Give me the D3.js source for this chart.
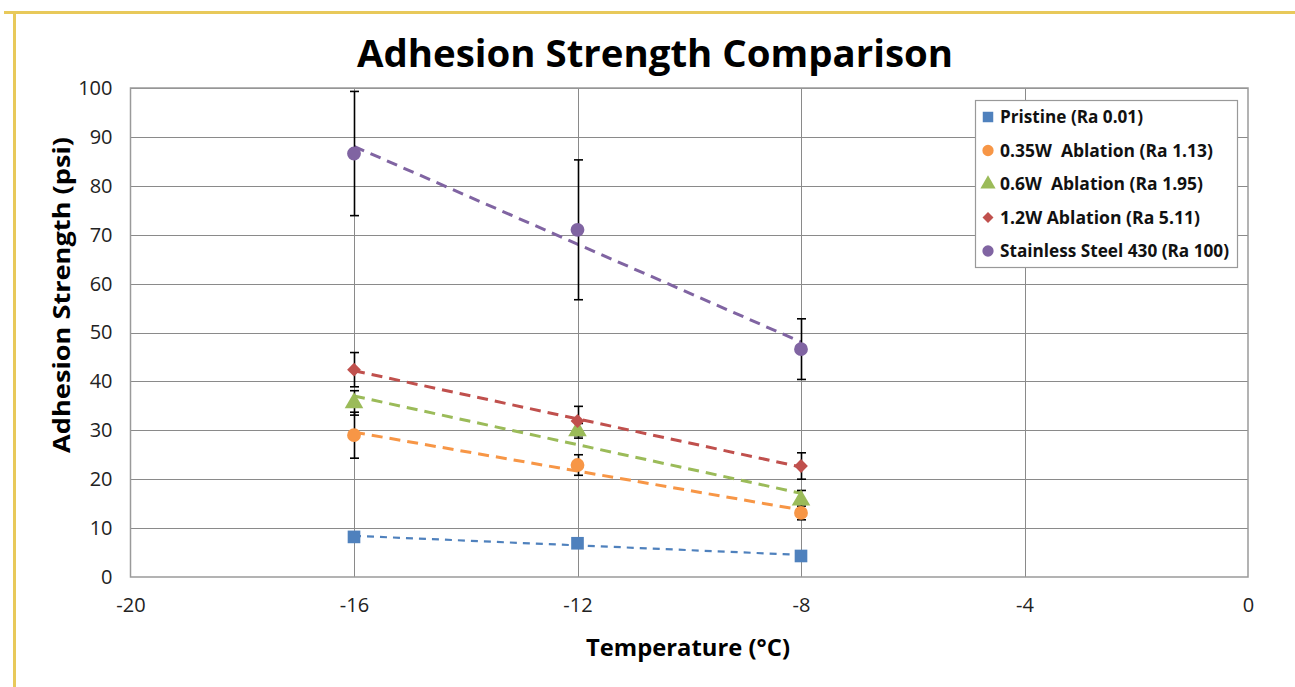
<!DOCTYPE html>
<html><head><meta charset="utf-8">
<script src="https://cdn.jsdelivr.net/npm/d3@7"></script>
<style>body{margin:0;background:#fff}svg{display:block}text{font-family:"Open Sans","Noto Sans",sans-serif}</style>
</head><body>
<svg id="c" width="1295" height="687"></svg>
<script>
const temps = [-16, -12, -8];
const seriesNames = ["Pristine (Ra 0.01)", "0.35W  Ablation (Ra 1.13)", "0.6W  Ablation (Ra 1.95)", "1.2W Ablation (Ra 5.11)", "Stainless Steel 430 (Ra 100)"];
const pristine = [8.2, 6.9, 4.3];
const w035 = [29.0, 22.9, 13.1];
const w06 = [35.6, 29.9, 15.7];
const w12 = [42.4, 31.9, 22.7];
const ss430 = [86.6, 71.0, 46.6];
const errPristine = [0.8, 0.8, 0.8];
const err035 = [4.7, 2.1, 1.4];
const err06 = [2.5, 1.5, 2.0];
const err12 = [3.5, 3.0, 2.7];
const errSS = [12.7, 14.3, 6.2];
const colors = ["#4F81BD", "#F79646", "#9BBB59", "#C0504D", "#8064A2"];
const shapes = ["square", "circle", "triangle", "diamond", "circle"];
const xTicks = [-20, -16, -12, -8, -4, 0];
const yTicks = [0, 10, 20, 30, 40, 50, 60, 70, 80, 90, 100];
const legendWidths = [143, 213, 203, 200, 229];

const values = [pristine, w035, w06, w12, ss430];
const errs = [errPristine, err035, err06, err12, errSS];

const svg = d3.select("#c");
// frame
svg.append("line").attr("x1", 4).attr("x2", 1295).attr("y1", 12.5).attr("y2", 12.5).attr("stroke", "#E8C95A").attr("stroke-width", 3);
svg.append("line").attr("x1", 14.5).attr("x2", 14.5).attr("y1", 11).attr("y2", 687).attr("stroke", "#E8C95A").attr("stroke-width", 3);

const x = d3.scaleLinear().domain([-20, 0]).range([130.5, 1248]);
const y = d3.scaleLinear().domain([0, 100]).range([577, 88]);

// gridlines
const g = svg.append("g");
g.selectAll(".hg").data(yTicks.filter(d => d > 0)).join("line")
  .attr("x1", x(-20)).attr("x2", x(0)).attr("y1", d => Math.round(y(d)) + 0.5).attr("y2", d => Math.round(y(d)) + 0.5)
  .attr("stroke", "#8a8a8a").attr("stroke-width", 1);
g.selectAll(".vg").data(xTicks.filter(d => d > -20 && d < 0)).join("line")
  .attr("x1", d => Math.round(x(d)) + 0.5).attr("x2", d => Math.round(x(d)) + 0.5).attr("y1", y(100)).attr("y2", y(0))
  .attr("stroke", "#8a8a8a").attr("stroke-width", 1);
// plot border
svg.append("rect").attr("x", x(-20)).attr("y", y(100)).attr("width", x(0) - x(-20)).attr("height", y(0) - y(100))
  .attr("fill", "none").attr("stroke", "#9a9a9a").attr("stroke-width", 1.5);

// axes tick labels
const yAxis = d3.axisLeft(y).tickValues(yTicks).tickSize(0).tickPadding(18).tickFormat(d => String(d));
const ya = svg.append("g").attr("transform", `translate(${x(-20)},0)`).call(yAxis);
ya.select(".domain").remove();
ya.selectAll("text").attr("font-size", 20).attr("fill", "#222").style("font-family", "'Open Sans',sans-serif");
const xAxis = d3.axisBottom(x).tickValues(xTicks).tickSize(0).tickPadding(21).tickFormat(d => String(d));
const xa = svg.append("g").attr("transform", `translate(0,${y(0)})`).call(xAxis);
xa.select(".domain").remove();
xa.selectAll("text").attr("font-size", 20).attr("fill", "#222").style("font-family", "'Open Sans',sans-serif");

// title and axis labels
svg.append("text").attr("x", 655).attr("y", 67).attr("text-anchor", "middle").attr("font-size", 38).attr("font-weight", "bold")
  .attr("textLength", 596).attr("lengthAdjust", "spacingAndGlyphs").attr("fill", "#000").text("Adhesion Strength Comparison");
svg.append("text").attr("transform", "translate(70,295) rotate(-90)").attr("text-anchor", "middle").attr("font-size", 23).attr("font-weight", "bold")
  .attr("textLength", 316).attr("lengthAdjust", "spacingAndGlyphs").text("Adhesion Strength (psi)");
svg.append("text").attr("x", 688).attr("y", 656).attr("text-anchor", "middle").attr("font-size", 23).attr("font-weight", "bold")
  .attr("textLength", 204).attr("lengthAdjust", "spacingAndGlyphs").text("Temperature (°C)");

function symbolFor(s, size) {
  const t = { square: d3.symbolSquare, circle: d3.symbolCircle, triangle: d3.symbolTriangle, diamond: d3.symbolSquare }[s];
  return d3.symbol().type(t).size(size)();
}
const rot = s => s === "diamond" ? " rotate(45)" : "";
const sizes = { square: 160, circle: 150, triangle: 150, diamond: 95 };

// trendlines (least squares fit)
values.forEach((vals, i) => {
  const mx = d3.mean(temps), my = d3.mean(vals);
  const slope = d3.sum(temps, (t, k) => (t - mx) * (vals[k] - my)) / d3.sum(temps, t => (t - mx) ** 2);
  const f = t => my + slope * (t - mx);
  svg.append("line").attr("x1", x(-16)).attr("x2", x(-8)).attr("y1", y(f(-16))).attr("y2", y(f(-8)))
    .attr("stroke", colors[i]).attr("stroke-width", i === 0 ? 2.2 : 3)
    .attr("stroke-dasharray", i === 0 ? "7,6" : "11,7");
});

// error bars
values.forEach((vals, i) => {
  temps.forEach((t, k) => {
    const e = errs[i][k];
    const cx = Math.round(x(t)) + 0.5;
    const eg = svg.append("g").attr("stroke", "#000").attr("stroke-width", 1.6);
    eg.append("line").attr("x1", cx).attr("x2", cx).attr("y1", y(vals[k] + e)).attr("y2", y(vals[k] - e));
    [vals[k] + e, vals[k] - e].forEach(v => eg.append("line").attr("x1", cx - 4.5).attr("x2", cx + 4.5).attr("y1", y(v)).attr("y2", y(v)));
  });
});

// markers
values.forEach((vals, i) => {
  svg.append("g").selectAll("path").data(vals).join("path")
    .attr("transform", (d, k) => `translate(${x(temps[k])},${y(d)})` + rot(shapes[i]))
    .attr("d", symbolFor(shapes[i], sizes[shapes[i]]))
    .attr("fill", colors[i]);
});

// legend
const lg = svg.append("g").attr("transform", "translate(975,100)");
lg.append("rect").attr("x", 0.5).attr("y", 0.5).attr("width", 262).attr("height", 167).attr("fill", "#fff").attr("stroke", "#999").attr("stroke-width", 1.2);
seriesNames.forEach((name, i) => {
  const yy = 17 + i * 33.5;
  const ls = { square: 110, circle: 100, triangle: 100, diamond: 60 }[shapes[i]];
  lg.append("path").attr("transform", `translate(13,${yy})` + rot(shapes[i])).attr("d", symbolFor(shapes[i], ls)).attr("fill", colors[i]);
  lg.append("text").attr("x", 25).attr("y", yy + 6).attr("font-size", 17).attr("font-weight", "bold").attr("fill", "#111")
    .attr("xml:space", "preserve").attr("textLength", legendWidths[i]).attr("lengthAdjust", "spacingAndGlyphs").text(name);
});
</script>
</body></html>
